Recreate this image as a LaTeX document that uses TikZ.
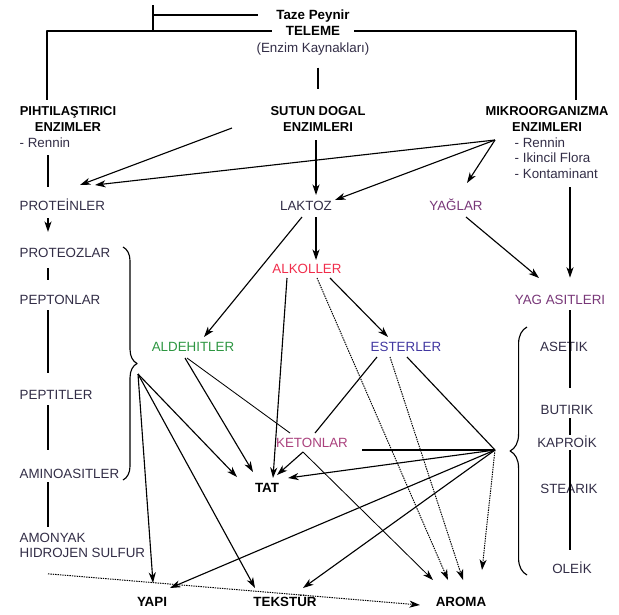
\documentclass[tikz,border=0pt]{standalone}
\usepackage{fontspec}
\setmainfont{Liberation Sans}
\usetikzlibrary{arrows.meta,decorations.pathreplacing}
\definecolor{txtgray}{RGB}{50,45,70}
\definecolor{alkred}{RGB}{240,45,75}
\definecolor{aldgreen}{RGB}{45,150,65}
\definecolor{estblue}{RGB}{65,55,160}
\definecolor{ketpink}{RGB}{170,65,125}
\definecolor{yagpurple}{RGB}{120,55,120}
\definecolor{thin}{RGB}{85,85,85}
\begin{document}
\begin{tikzpicture}[x=0.025cm, y=-0.025cm, line join=round,
    base/.style={inner sep=1pt, font=\fontsize{9.5}{11.2}\selectfont},
    lbl/.style={base, text=txtgray, text height=7pt, text depth=0.5pt},
    col/.style={lbl, anchor=west},
    hd/.style={base, font=\fontsize{9.5}{11.2}\selectfont\bfseries, text height=7pt, text depth=0.5pt},
    hdml/.style={base, font=\fontsize{9.2}{11.2}\selectfont\bfseries, align=center},
    ln/.style={line width=0.8pt},
    ar/.style={ln, -{Stealth[length=7.5pt,width=5pt,inset=2.2pt]}},
    gr/.style={thin, line width=0.6pt, -{Stealth[length=7.5pt,width=5pt,inset=2.2pt]}},
    dt/.style={gr, line width=0.7pt, dash pattern=on 1pt off 0.7pt},
    brc/.style={ln, decorate, decoration={brace, amplitude=#1}}]
\useasboundingbox (0,0) rectangle (619,614);

% kaynak
\node[hd] (taze) at (313,15) {Taze Peynir};
\node[hd] (teleme) at (313,31) {TELEME};
\node[lbl] (kaynak) at (313,48) {(Enzim Kaynakları)};
\coordinate (tick) at (153,5);
\coordinate (lcol) at (47,100);
\coordinate (rcol) at (576,100);
\draw[ln] (tick) -- (tick |- teleme);
\draw[ln, shorten >=12pt] (tick |- taze) -- (taze.west);
\draw[ln, shorten <=9pt] (teleme.west) -| (lcol);
\draw[ln, shorten <=9pt] (teleme.east) -| (rcol);

% enzimler
\node[hdml] (pihti) at (68,119) {PIHTILAŞTIRICI\\ENZIMLER};
\node[hdml] (sutun) at (318,119) {SUTUN DOGAL\\ENZIMLERI};
\node[hdml] (mikro) at (547,119) {MIKROORGANIZMA\\ENZIMLERI};
\draw[ln, shorten <=9pt, shorten >=11pt] (kaynak.south -| sutun) -- (sutun.north);
\node[col] (prennin) at (18,143) {- Rennin};
\node[base, text=txtgray, anchor=west, align=left] (mlist) at (513,158) {- Rennin\\- Ikincil Flora\\- Kontaminant};

% sol kolon
\coordinate (lx) at (48,0);
\node[col] (protein) at (18,206) {PROTEİNLER};
\node[col] (proteoz) at (18,253) {PROTEOZLAR};
\node[col] (pepton) at (18,300) {PEPTONLAR};
\node[col] (peptit) at (18,395) {PEPTITLER};
\node[col] (amino) at (18,474) {AMINOASITLER};
\node[base, text=txtgray, anchor=west, align=left] (amonyak) at (18,545.5) {AMONYAK\\HIDROJEN SULFUR};
\draw[ln, shorten <=3.8pt, shorten >=8.7pt] (prennin.south -| lx) -- (protein.north -| lx);
\draw[ar, shorten <=3.8pt, shorten >=10pt] (protein.south -| lx) -- (proteoz.north -| lx);
\draw[ln, shorten <=5.9pt, shorten >=9.5pt] (proteoz.south -| lx) -- (pepton.north -| lx);
\draw[ln, shorten <=2.3pt, shorten >=10.9pt] (pepton.south -| lx) -- (peptit.north -| lx);
\draw[ln, shorten <=2.3pt, shorten >=12.3pt] (peptit.south -| lx) -- (amino.north -| lx);
\draw[ln, shorten <=1pt, shorten >=3pt] (amino.south -| lx) -- (amonyak.north -| lx);

% orta
\node[lbl] (laktoz) at (306,206) {LAKTOZ};
\node[lbl, text=yagpurple] (yaglar) at (456,206) {YAĞLAR};
\node[lbl, text=alkred] (alkol) at (307,269) {ALKOLLER};
\node[lbl, text=aldgreen] (aldehit) at (193,347) {ALDEHITLER};
\node[lbl, text=estblue] (ester) at (406,347) {ESTERLER};
\node[lbl, text=ketpink] (keton) at (312,443) {KETONLAR};
\node[hd] (tat) at (267,488) {TAT};
\node[hd] (yapi) at (152,602) {YAPI};
\node[hd] (tekstur) at (285,602) {TEKSTÜR};
\node[hd] (aroma) at (461,602) {AROMA};

% sag kolon
\coordinate (rx) at (570,0);
\node[lbl, text=yagpurple] (yagasit) at (560,300) {YAG ASITLERI};
\node[lbl] (asetik) at (564,347) {ASETIK};
\node[lbl] (butirik) at (567,410) {BUTIRIK};
\node[lbl] (kaproik) at (567,443) {KAPROİK};
\node[lbl] (stearik) at (569,489) {STEARIK};
\node[lbl] (oleik) at (572,569) {OLEİK};
\draw[ar, shorten <=5pt, shorten >=10.9pt] (mlist.south -| rx) -- (yagasit.north -| rx);
\draw[ln, shorten <=2.3pt, shorten >=10.9pt] (yagasit.south -| rx) -- (butirik.north -| rx);
\draw[ln, shorten <=1pt, shorten >=1pt] (butirik.south -| rx) -- (kaproik.north -| rx);
\draw[ln, shorten >=8.7pt] (kaproik.south -| rx) -- (oleik.north -| rx);

% kume parantezleri
\draw[brc=10pt] (123,247) -- (123,480);
\draw[brc=12pt] (527,575) -- (527,327);
\coordinate (lhub) at (138,374);
\coordinate (rhub) at (495,450);
\coordinate (mhub) at (495,140);

% oklar
\draw[ar] ([shift={(-86,9)}]sutun.center) -- ([shift={(62,-21)}]protein.west);
\draw[ar] ([shift={(-2,21)}]sutun.center) -- ([shift={(10,-11)}]laktoz.center);
\draw[ar] (mhub) -- ([shift={(77,-21)}]protein.west);
\draw[ar] (mhub) -- ([shift={(29,-6)}]laktoz.center);
\draw[ar] (mhub) -- ([shift={(11,-23)}]yaglar.center);
\draw[ar] ([shift={(10,11)}]yaglar.center) -- ([shift={(-21,-22)}]yagasit.center);
\draw[ar] ([shift={(10,11)}]laktoz.center) -- ([shift={(9,-9)}]alkol.center);
\draw[ar] ([shift={(-4,11)}]laktoz.center) -- ([shift={(11,-10)}]aldehit.center);
\draw[ar] ([shift={(23,9)}]alkol.center) -- ([shift={(-18,-10)}]ester.center);
\draw[ar] ([shift={(-20,9)}]alkol.center) -- ([shift={(6,-10)}]tat.center);
\draw[dt] ([shift={(10,9)}]alkol.center) -- ([shift={(-13,-22)}]aroma.center);
\draw[ar] ([shift={(-8,11)}]aldehit.center) -- ([shift={(-14,-16)}]tat.center);
\draw[thin, line width=0.6pt] ([shift={(-6,11)}]aldehit.center) -- ([shift={(-22,-10)}]keton.center);
\draw[ln] ([shift={(-29,10)}]ester.center) -- ([shift={(3,-10)}]keton.center);
\draw[dt] ([shift={(-16,10)}]ester.center) -- ([shift={(2,-22)}]aroma.center);
\draw[ln] ([shift={(1,10)}]ester.center) -- (rhub);
\draw[ar] ([shift={(-9,9)}]keton.center) -- ([shift={(10,-13)}]tat.center);
\draw[gr] ([shift={(-9,9)}]keton.center) -- ([shift={(-28,-22)}]aroma.center);
\draw[ln] (rhub) -- ([shift={(50,7)}]keton.center);
\draw[ar] (rhub) -- ([shift={(21,-10)}]tat.center);
\draw[ar] (rhub) -- ([shift={(18,-14)}]yapi.center);
\draw[ar] (rhub) -- ([shift={(18,-14)}]tekstur.center);
\draw[dt] (rhub) -- ([shift={(21,-32)}]aroma.center);
\draw[ar] (lhub) -- ([shift={(1,-19)}]yapi.center);
\draw[ar] (lhub) -- ([shift={(-30,-14)}]tekstur.center);
\draw[ar] (lhub) -- ([shift={(-30,-11)}]tat.center);
\draw[dt] ([shift={(30,14)}]amonyak.south west) -- ([shift={(-41,3)}]aroma.center);
\end{tikzpicture}
\end{document}
